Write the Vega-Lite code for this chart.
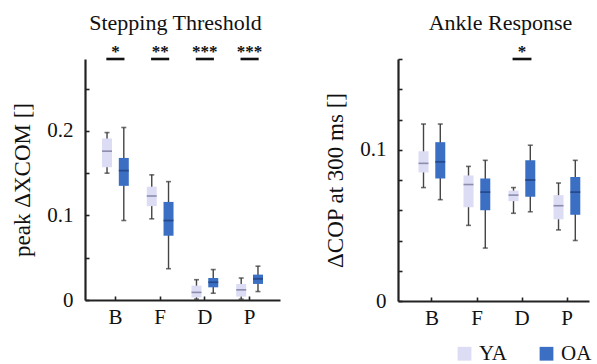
{
  "$schema": "https://vega.github.io/schema/vega-lite/v6.json",
  "padding": {"left": 11, "top": 12, "right": 5, "bottom": 4},
  "background": "white",
  "bounds": "flush",
  "spacing": 118,
  "config": {
    "font": "Liberation Serif",
    "view": {"stroke": null},
    "axis": {
      "domainColor": "#222", "domainWidth": 2.2, "tickColor": "#222", "tickWidth": 1.6,
      "tickSize": -4, "labelColor": "#111", "titleColor": "#111", "grid": false,
      "labelFont": "Liberation Serif", "titleFont": "Liberation Serif",
      "labelFontSize": 21, "titleFontSize": 23, "titleFontWeight": "normal", "labelOverlap": false
    },
    "title": {"font": "Liberation Serif", "fontSize": 22, "fontWeight": "normal", "color": "#111"}
  },
  "datasets": {
    "step": [
      {"cat": "B", "group": "YA", "lo": 0.150, "q1": 0.157, "med": 0.176, "q3": 0.191, "hi": 0.198},
      {"cat": "B", "group": "OA", "lo": 0.094, "q1": 0.135, "med": 0.153, "q3": 0.168, "hi": 0.204},
      {"cat": "F", "group": "YA", "lo": 0.096, "q1": 0.111, "med": 0.123, "q3": 0.134, "hi": 0.148},
      {"cat": "F", "group": "OA", "lo": 0.037, "q1": 0.076, "med": 0.094, "q3": 0.116, "hi": 0.140},
      {"cat": "D", "group": "YA", "lo": 0.001, "q1": 0.003, "med": 0.009, "q3": 0.017, "hi": 0.024},
      {"cat": "D", "group": "OA", "lo": 0.008, "q1": 0.015, "med": 0.021, "q3": 0.026, "hi": 0.036},
      {"cat": "P", "group": "YA", "lo": 0.001, "q1": 0.004, "med": 0.012, "q3": 0.019, "hi": 0.026},
      {"cat": "P", "group": "OA", "lo": 0.010, "q1": 0.019, "med": 0.025, "q3": 0.030, "hi": 0.040}
    ],
    "ankle": [
      {"cat": "B", "group": "YA", "lo": 0.075, "q1": 0.085, "med": 0.091, "q3": 0.099, "hi": 0.117},
      {"cat": "B", "group": "OA", "lo": 0.067, "q1": 0.081, "med": 0.092, "q3": 0.105, "hi": 0.117},
      {"cat": "F", "group": "YA", "lo": 0.050, "q1": 0.062, "med": 0.077, "q3": 0.083, "hi": 0.089},
      {"cat": "F", "group": "OA", "lo": 0.035, "q1": 0.060, "med": 0.072, "q3": 0.081, "hi": 0.093},
      {"cat": "D", "group": "YA", "lo": 0.058, "q1": 0.066, "med": 0.070, "q3": 0.073, "hi": 0.075},
      {"cat": "D", "group": "OA", "lo": 0.059, "q1": 0.069, "med": 0.080, "q3": 0.093, "hi": 0.103},
      {"cat": "P", "group": "YA", "lo": 0.047, "q1": 0.054, "med": 0.063, "q3": 0.070, "hi": 0.078},
      {"cat": "P", "group": "OA", "lo": 0.040, "q1": 0.057, "med": 0.072, "q3": 0.082, "hi": 0.093}
    ],
    "stepsig": [
      {"cat": "B", "stars": "*"},
      {"cat": "F", "stars": "**"},
      {"cat": "D", "stars": "***"},
      {"cat": "P", "stars": "***"}
    ],
    "anklesig": [
      {"cat": "D", "stars": "*"}
    ]
  },
  "hconcat": [
    {
      "width": 195,
      "height": 241,
      "title": {"text": "Stepping Threshold", "anchor": "middle", "frame": "group", "dx": -7, "offset": 8},
      "layer": [
        {
          "data": {"name": "step"},
          "mark": {"type": "rule", "color": "#444", "strokeWidth": 1.4},
          "encoding": {
            "x": {"field": "cat", "type": "nominal", "sort": ["B", "F", "D", "P"],
                  "scale": {"paddingInner": 0.25, "paddingOuter": 0.305},
                  "axis": {"title": null, "labelAngle": 0, "labelPadding": 10}},
            "xOffset": {"field": "group", "type": "nominal", "sort": ["YA", "OA"], "scale": {"paddingInner": 0, "paddingOuter": 0}},
            "y": {"field": "lo", "type": "quantitative",
                  "scale": {"domain": [0, 0.285], "nice": false, "zero": true},
                  "axis": {"title": "peak ΔXCOM []", "values": [0, 0.05, 0.1, 0.15, 0.2, 0.25], "format": "~g", "tickCount": 20,
                           "labelExpr": "round(datum.value*100) % 10 == 0 ? datum.label : ''", "labelOverlap": false,
                           "labelPadding": 16, "titlePadding": 12}},
            "y2": {"field": "hi"}
          }
        },
        {
          "data": {"name": "step"},
          "mark": {"type": "tick", "color": "#333", "size": 5, "thickness": 1.6},
          "encoding": {
            "x": {"field": "cat", "type": "nominal", "sort": ["B", "F", "D", "P"]},
            "xOffset": {"field": "group", "type": "nominal", "sort": ["YA", "OA"]},
            "y": {"field": "lo", "type": "quantitative"}
          }
        },
        {
          "data": {"name": "step"},
          "mark": {"type": "tick", "color": "#333", "size": 5, "thickness": 1.6},
          "encoding": {
            "x": {"field": "cat", "type": "nominal", "sort": ["B", "F", "D", "P"]},
            "xOffset": {"field": "group", "type": "nominal", "sort": ["YA", "OA"]},
            "y": {"field": "hi", "type": "quantitative"}
          }
        },
        {
          "data": {"name": "step"},
          "mark": {"type": "bar", "size": 10},
          "encoding": {
            "x": {"field": "cat", "type": "nominal", "sort": ["B", "F", "D", "P"]},
            "xOffset": {"field": "group", "type": "nominal", "sort": ["YA", "OA"]},
            "y": {"field": "q1", "type": "quantitative"},
            "y2": {"field": "q3"},
            "color": {"field": "group", "type": "nominal",
                      "scale": {"domain": ["YA", "OA"], "range": ["#dcdcf5", "#3b6fc3"]},
                      "legend": {"title": null, "orient": "none", "legendX": 369, "legendY": 284,
                                 "direction": "horizontal", "symbolType": "square", "symbolSize": 190,
                                 "symbolStrokeWidth": 0, "symbolOpacity": 1, "labelFontSize": 21,
                                 "labelFont": "Liberation Serif", "labelColor": "#111", "columnPadding": 28, "labelOffset": 4}}
          }
        },
        {
          "data": {"name": "step"},
          "transform": [{"filter": "datum.group == 'YA'"}],
          "mark": {"type": "tick", "color": "#6a6a8e", "size": 10, "thickness": 1.6},
          "encoding": {
            "x": {"field": "cat", "type": "nominal", "sort": ["B", "F", "D", "P"]},
            "xOffset": {"field": "group", "type": "nominal", "sort": ["YA", "OA"]},
            "y": {"field": "med", "type": "quantitative"}
          }
        },
        {
          "data": {"name": "step"},
          "transform": [{"filter": "datum.group == 'OA'"}],
          "mark": {"type": "tick", "color": "#1d3c78", "size": 10, "thickness": 1.8},
          "encoding": {
            "x": {"field": "cat", "type": "nominal", "sort": ["B", "F", "D", "P"]},
            "xOffset": {"field": "group", "type": "nominal", "sort": ["YA", "OA"]},
            "y": {"field": "med", "type": "quantitative"}
          }
        },
        {
          "data": {"name": "stepsig"},
          "mark": {"type": "rule", "color": "#111", "strokeWidth": 2.6},
          "encoding": {
            "x": {"field": "cat", "type": "nominal", "sort": ["B", "F", "D", "P"], "bandPosition": 0.23},
            "x2": {"field": "cat", "bandPosition": 0.77},
            "y": {"value": 0}
          }
        },
        {
          "data": {"name": "stepsig"},
          "mark": {"type": "text", "fontSize": 17, "fontWeight": "bold", "color": "#111", "baseline": "alphabetic", "dy": 0},
          "encoding": {
            "x": {"field": "cat", "type": "nominal", "sort": ["B", "F", "D", "P"]},
            "y": {"value": -2},
            "text": {"field": "stars"}
          }
        }
      ]
    },
    {
      "width": 191,
      "height": 242,
      "title": {"text": "Ankle Response", "anchor": "middle", "frame": "group", "dx": 7, "offset": 8},
      "layer": [
        {
          "data": {"name": "ankle"},
          "mark": {"type": "rule", "color": "#444", "strokeWidth": 1.4},
          "encoding": {
            "x": {"field": "cat", "type": "nominal", "sort": ["B", "F", "D", "P"],
                  "scale": {"paddingInner": 0.25, "paddingOuter": 0.247, "align": 0.77},
                  "axis": {"title": null, "labelAngle": 0, "labelPadding": 10}},
            "xOffset": {"field": "group", "type": "nominal", "sort": ["YA", "OA"], "scale": {"paddingInner": 0, "paddingOuter": 0}},
            "y": {"field": "lo", "type": "quantitative",
                  "scale": {"domain": [0, 0.16], "nice": false, "zero": true},
                  "axis": {"title": "ΔCOP at 300 ms []", "values": [0, 0.02, 0.04, 0.06, 0.08, 0.1, 0.12, 0.14, 0.16], "format": "~g", "tickCount": 20,
                           "labelExpr": "round(datum.value*100) % 10 == 0 ? datum.label : ''", "labelOverlap": false,
                           "labelPadding": 16, "titlePadding": 12}},
            "y2": {"field": "hi"}
          }
        },
        {
          "data": {"name": "ankle"},
          "mark": {"type": "tick", "color": "#333", "size": 5, "thickness": 1.6},
          "encoding": {
            "x": {"field": "cat", "type": "nominal", "sort": ["B", "F", "D", "P"]},
            "xOffset": {"field": "group", "type": "nominal", "sort": ["YA", "OA"]},
            "y": {"field": "lo", "type": "quantitative"}
          }
        },
        {
          "data": {"name": "ankle"},
          "mark": {"type": "tick", "color": "#333", "size": 5, "thickness": 1.6},
          "encoding": {
            "x": {"field": "cat", "type": "nominal", "sort": ["B", "F", "D", "P"]},
            "xOffset": {"field": "group", "type": "nominal", "sort": ["YA", "OA"]},
            "y": {"field": "hi", "type": "quantitative"}
          }
        },
        {
          "data": {"name": "ankle"},
          "mark": {"type": "bar", "size": 10},
          "encoding": {
            "x": {"field": "cat", "type": "nominal", "sort": ["B", "F", "D", "P"]},
            "xOffset": {"field": "group", "type": "nominal", "sort": ["YA", "OA"]},
            "y": {"field": "q1", "type": "quantitative"},
            "y2": {"field": "q3"},
            "color": {"field": "group", "type": "nominal",
                      "scale": {"domain": ["YA", "OA"], "range": ["#dcdcf5", "#3b6fc3"]},
                      "legend": {"title": null, "orient": "none", "legendX": 369, "legendY": 284,
                                 "direction": "horizontal", "symbolType": "square", "symbolSize": 190,
                                 "symbolStrokeWidth": 0, "symbolOpacity": 1, "labelFontSize": 21,
                                 "labelFont": "Liberation Serif", "labelColor": "#111", "columnPadding": 28, "labelOffset": 4}}
          }
        },
        {
          "data": {"name": "ankle"},
          "transform": [{"filter": "datum.group == 'YA'"}],
          "mark": {"type": "tick", "color": "#6a6a8e", "size": 10, "thickness": 1.6},
          "encoding": {
            "x": {"field": "cat", "type": "nominal", "sort": ["B", "F", "D", "P"]},
            "xOffset": {"field": "group", "type": "nominal", "sort": ["YA", "OA"]},
            "y": {"field": "med", "type": "quantitative"}
          }
        },
        {
          "data": {"name": "ankle"},
          "transform": [{"filter": "datum.group == 'OA'"}],
          "mark": {"type": "tick", "color": "#1d3c78", "size": 10, "thickness": 1.8},
          "encoding": {
            "x": {"field": "cat", "type": "nominal", "sort": ["B", "F", "D", "P"]},
            "xOffset": {"field": "group", "type": "nominal", "sort": ["YA", "OA"]},
            "y": {"field": "med", "type": "quantitative"}
          }
        },
        {
          "data": {"name": "anklesig"},
          "mark": {"type": "rule", "color": "#111", "strokeWidth": 2.6},
          "encoding": {
            "x": {"field": "cat", "type": "nominal", "sort": ["B", "F", "D", "P"], "bandPosition": 0.22},
            "x2": {"field": "cat", "bandPosition": 0.78},
            "y": {"value": 0}
          }
        },
        {
          "data": {"name": "anklesig"},
          "mark": {"type": "text", "fontSize": 17, "fontWeight": "bold", "color": "#111", "baseline": "alphabetic", "dy": 0},
          "encoding": {
            "x": {"field": "cat", "type": "nominal", "sort": ["B", "F", "D", "P"]},
            "y": {"value": -2},
            "text": {"field": "stars"}
          }
        }
      ]
    }
  ]
}
